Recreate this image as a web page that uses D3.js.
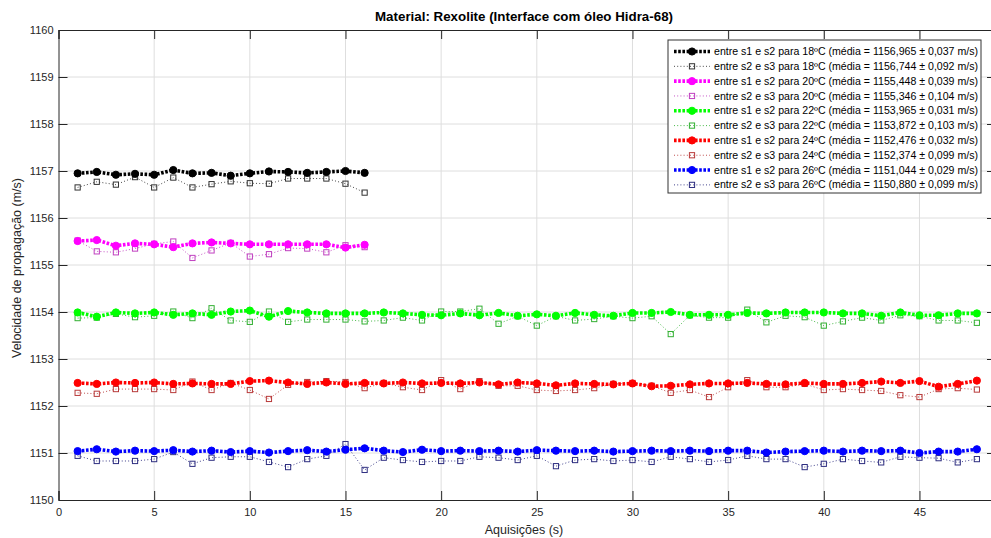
<!DOCTYPE html>
<html>
<head>
<meta charset="utf-8">
<script src="https://cdn.jsdelivr.net/npm/d3@7"></script>
<style>
  html, body { margin: 0; padding: 0; background: #ffffff; }
  svg { display: block; font-family: "Liberation Sans", Arial, Helvetica, sans-serif; }
</style>
</head>
<body>
<svg id="chart" width="991" height="538"></svg>
<script>
// Propagation speed per acquisition, for each temperature and sensor pair
const acq16 = d3.range(1, 17);
const acq48 = d3.range(1, 49);

const s12_18 = [1156.95, 1156.98, 1156.92, 1156.94, 1156.92, 1157.02, 1156.95, 1156.96, 1156.90, 1156.95, 1156.99, 1156.98, 1156.96, 1156.98, 1157.00, 1156.96];
const s23_18 = [1156.65, 1156.77, 1156.71, 1156.87, 1156.65, 1156.86, 1156.65, 1156.72, 1156.78, 1156.74, 1156.73, 1156.84, 1156.84, 1156.84, 1156.73, 1156.54];

const s12_20 = [1155.51, 1155.53, 1155.41, 1155.46, 1155.44, 1155.38, 1155.46, 1155.48, 1155.46, 1155.44, 1155.44, 1155.44, 1155.44, 1155.44, 1155.37, 1155.43];
const s23_20 = [1155.52, 1155.29, 1155.27, 1155.35, 1155.45, 1155.50, 1155.15, 1155.31, 1155.47, 1155.18, 1155.23, 1155.36, 1155.35, 1155.27, 1155.42, 1155.38];

const s12_22 = [1153.99, 1153.90, 1153.99, 1153.97, 1153.99, 1153.94, 1153.97, 1153.94, 1154.01, 1154.03, 1153.90, 1154.02, 1153.99, 1153.97, 1153.97, 1153.97,
                1153.99, 1153.97, 1153.94, 1153.93, 1153.97, 1153.93, 1153.98, 1153.92, 1153.95, 1153.92, 1153.98, 1153.94, 1153.92, 1153.98, 1153.98, 1154.00,
                1153.94, 1153.94, 1153.94, 1153.98, 1153.97, 1153.99, 1153.99, 1153.99, 1153.97, 1153.97, 1153.92, 1153.99, 1153.93, 1153.93, 1153.97, 1153.97];
const s23_22 = [1153.87, 1153.88, 1153.96, 1153.89, 1153.92, 1154.01, 1153.87, 1154.08, 1153.82, 1153.79, 1154.01, 1153.79, 1153.84, 1153.84, 1153.84, 1153.80,
                1153.82, 1153.88, 1153.82, 1154.01, 1154.01, 1154.07, 1153.75, 1153.91, 1153.71, 1153.91, 1153.82, 1153.85, 1153.91, 1153.87, 1153.91, 1153.53,
                1153.93, 1153.88, 1153.88, 1154.05, 1153.78, 1153.92, 1153.89, 1153.71, 1153.80, 1153.88, 1153.82, 1153.93, 1153.91, 1153.82, 1153.82, 1153.77];

const s12_24 = [1152.49, 1152.47, 1152.50, 1152.49, 1152.50, 1152.47, 1152.48, 1152.47, 1152.47, 1152.53, 1152.54, 1152.50, 1152.47, 1152.50, 1152.47, 1152.49,
                1152.48, 1152.50, 1152.48, 1152.49, 1152.48, 1152.50, 1152.46, 1152.50, 1152.48, 1152.44, 1152.48, 1152.47, 1152.46, 1152.48, 1152.42, 1152.43,
                1152.46, 1152.48, 1152.48, 1152.49, 1152.47, 1152.46, 1152.49, 1152.47, 1152.47, 1152.49, 1152.52, 1152.49, 1152.53, 1152.41, 1152.47, 1152.54];
const s23_24 = [1152.28, 1152.26, 1152.36, 1152.36, 1152.36, 1152.34, 1152.52, 1152.34, 1152.49, 1152.34, 1152.15, 1152.45, 1152.51, 1152.53, 1152.51, 1152.38,
                1152.49, 1152.40, 1152.34, 1152.55, 1152.36, 1152.53, 1152.43, 1152.43, 1152.34, 1152.32, 1152.34, 1152.38, 1152.47, 1152.49, 1152.43, 1152.28,
                1152.34, 1152.19, 1152.40, 1152.55, 1152.40, 1152.40, 1152.47, 1152.34, 1152.36, 1152.34, 1152.32, 1152.23, 1152.19, 1152.36, 1152.38, 1152.35];

const s12_26 = [1151.04, 1151.08, 1151.03, 1151.05, 1151.04, 1151.06, 1151.03, 1151.05, 1151.02, 1151.04, 1151.01, 1151.04, 1151.06, 1151.03, 1151.07, 1151.10,
                1151.05, 1151.02, 1151.07, 1151.04, 1151.05, 1151.04, 1151.05, 1151.03, 1151.06, 1151.05, 1151.04, 1151.05, 1151.03, 1151.04, 1151.05, 1151.04,
                1151.05, 1151.04, 1151.05, 1151.05, 1151.01, 1151.03, 1151.04, 1151.05, 1151.03, 1151.05, 1151.04, 1151.05, 1151.00, 1151.03, 1151.03, 1151.08];
const s23_26 = [1150.94, 1150.83, 1150.83, 1150.83, 1150.87, 1151.02, 1150.77, 1150.90, 1150.92, 1150.92, 1150.81, 1150.70, 1150.87, 1150.94, 1151.19, 1150.64,
                1150.90, 1150.85, 1150.81, 1150.83, 1150.83, 1150.92, 1150.90, 1150.85, 1150.94, 1150.72, 1150.85, 1150.87, 1150.83, 1150.85, 1150.81, 1150.92,
                1150.87, 1150.81, 1150.85, 1150.94, 1150.87, 1150.87, 1150.70, 1150.77, 1150.87, 1150.83, 1150.80, 1150.92, 1150.90, 1150.89, 1150.80, 1150.87];

const legendLabels = [
  "entre s1 e s2 para 18ºC (média = 1156,965 ± 0,037 m/s)",
  "entre s2 e s3 para 18ºC (média = 1156,744 ± 0,092 m/s)",
  "entre s1 e s2 para 20ºC (média = 1155,448 ± 0,039 m/s)",
  "entre s2 e s3 para 20ºC (média = 1155,346 ± 0,104 m/s)",
  "entre s1 e s2 para 22ºC (média = 1153,965 ± 0,031 m/s)",
  "entre s2 e s3 para 22ºC (média = 1153,872 ± 0,103 m/s)",
  "entre s1 e s2 para 24ºC (média = 1152,476 ± 0,032 m/s)",
  "entre s2 e s3 para 24ºC (média = 1152,374 ± 0,099 m/s)",
  "entre s1 e s2 para 26ºC (média = 1151,044 ± 0,029 m/s)",
  "entre s2 e s3 para 26ºC (média = 1150,880 ± 0,099 m/s)"
];

const xTickValues = [0, 5, 10, 15, 20, 25, 30, 35, 40, 45];
const yTickValues = [1150, 1151, 1152, 1153, 1154, 1155, 1156, 1157, 1158, 1159, 1160];

const titleText = "Material: Rexolite (Interface com óleo Hidra-68)";
const xLabelText = "Aquisições (s)";
const yLabelText = "Velocidade de propagação (m/s)";

// Series definitions: s1-s2 pairs are thick dotted lines with filled circles,
// s2-s3 pairs are thin dotted lines with open squares.
const series = [
  { x: acq16, y: s12_18, kind: "circle", color: "#000000" },
  { x: acq16, y: s23_18, kind: "square", color: "#333333" },
  { x: acq16, y: s12_20, kind: "circle", color: "#ff00ff" },
  { x: acq16, y: s23_20, kind: "square", color: "#c040c0" },
  { x: acq48, y: s12_22, kind: "circle", color: "#00ff00" },
  { x: acq48, y: s23_22, kind: "square", color: "#33b033" },
  { x: acq48, y: s12_24, kind: "circle", color: "#ff0000" },
  { x: acq48, y: s23_24, kind: "square", color: "#b83a3a" },
  { x: acq48, y: s12_26, kind: "circle", color: "#0000ff" },
  { x: acq48, y: s23_26, kind: "square", color: "#2e2e80" }
];

const svg = d3.select("#chart");
const plot = { left: 58.5, top: 30, right: 996, bottom: 500 };

const x = d3.scaleLinear().domain([0, 49]).range([plot.left, plot.right]);
const y = d3.scaleLinear().domain([1150, 1160]).range([plot.bottom, plot.top]);

const axisColor = "#262626";
const gridColor = "#dedede";

// Grid
const grid = svg.append("g");
grid.selectAll("line.gx").data(xTickValues.filter(d => d > 0)).enter().append("line")
  .attr("x1", d => x(d)).attr("x2", d => x(d))
  .attr("y1", plot.top).attr("y2", plot.bottom)
  .attr("stroke", gridColor).attr("stroke-width", 1);
grid.selectAll("line.gy").data(yTickValues.filter(d => d > 1150 && d < 1160)).enter().append("line")
  .attr("x1", plot.left).attr("x2", plot.right)
  .attr("y1", d => y(d)).attr("y2", d => y(d))
  .attr("stroke", gridColor).attr("stroke-width", 1);

// Axes with inward ticks on all four sides
const tickLen = 9;
const axisBottom = d3.axisBottom(x).tickValues(xTickValues).tickSize(-tickLen).tickPadding(8).tickFormat(d3.format("d"));
const axisLeft = d3.axisLeft(y).tickValues(yTickValues).tickSize(-tickLen).tickPadding(5).tickFormat(d3.format("d"));
const axisTop = d3.axisTop(x).tickValues(xTickValues).tickSize(-tickLen).tickFormat("");
const axisRight = d3.axisRight(y).tickValues(yTickValues).tickSize(-tickLen).tickFormat("");

function styleAxis(g) {
  g.selectAll("path").attr("stroke", axisColor).attr("stroke-width", 1);
  g.selectAll("line").attr("stroke", axisColor).attr("stroke-width", 1);
  g.selectAll("text").attr("fill", axisColor).style("font-size", "11px")
    .style("font-family", "'Liberation Sans', Arial, sans-serif");
}

svg.append("g").attr("transform", `translate(0,${plot.bottom})`).call(axisBottom).call(styleAxis);
svg.append("g").attr("transform", `translate(${plot.left},0)`).call(axisLeft).call(styleAxis);
svg.append("g").attr("transform", `translate(0,${plot.top})`).call(axisTop).call(styleAxis);
svg.append("g").attr("transform", `translate(${plot.right},0)`).call(axisRight).call(styleAxis);

// Data
const dataLayer = svg.append("g");
const lineGen = d3.line().x(d => x(d[0])).y(d => y(d[1]));

function drawCircleMarker(g, cx, cy, color) {
  g.append("circle").attr("cx", cx).attr("cy", cy).attr("r", 3.6)
    .attr("fill", color).attr("stroke", color).attr("stroke-width", 1);
}
function drawSquareMarker(g, cx, cy, color) {
  g.append("rect").attr("x", cx - 2.6).attr("y", cy - 2.6).attr("width", 5.2).attr("height", 5.2)
    .attr("fill", "none").attr("stroke", color).attr("stroke-width", 1);
}

// Draw thin series first so the thick circle series sit on top within each pair
const drawOrder = [1, 0, 3, 2, 5, 4, 7, 6, 9, 8];
drawOrder.forEach(i => {
  const s = series[i];
  const pts = s.x.map((v, k) => [v, s.y[k]]);
  const g = dataLayer.append("g");
  if (s.kind === "circle") {
    g.append("path").attr("d", lineGen(pts)).attr("fill", "none")
      .attr("stroke", s.color).attr("stroke-width", 3.6).attr("stroke-dasharray", "2.6,1.6");
    pts.forEach(p => drawCircleMarker(g, x(p[0]), y(p[1]), s.color));
  } else {
    g.append("path").attr("d", lineGen(pts)).attr("fill", "none")
      .attr("stroke", s.color).attr("stroke-width", 0.9).attr("stroke-dasharray", "1,2.2");
    pts.forEach(p => drawSquareMarker(g, x(p[0]), y(p[1]), s.color));
  }
});

// Title and axis labels
svg.append("text").attr("x", 524).attr("y", 21).attr("text-anchor", "middle")
  .attr("fill", "#000").style("font-size", "12px").style("font-weight", "bold")
  .attr("textLength", 298).attr("lengthAdjust", "spacingAndGlyphs")
  .text(titleText);

svg.append("text").attr("x", 524).attr("y", 534).attr("text-anchor", "middle")
  .attr("fill", axisColor).style("font-size", "12.5px").text(xLabelText);

svg.append("text").attr("transform", "translate(21,268) rotate(-90)").attr("text-anchor", "middle")
  .attr("fill", axisColor).style("font-size", "12.5px").text(yLabelText);

// Legend
const leg = { x: 668, y: 40, w: 313, h: 153 };
const legend = svg.append("g");
legend.append("rect").attr("x", leg.x).attr("y", leg.y).attr("width", leg.w).attr("height", leg.h)
  .attr("fill", "#ffffff").attr("stroke", "#333333").attr("stroke-width", 1);

const rowStep = 14.82;
legendLabels.forEach((label, i) => {
  const s = series[i];
  const cy = 51.5 + i * rowStep;
  const g = legend.append("g");
  if (s.kind === "circle") {
    g.append("line").attr("x1", 674).attr("x2", 710).attr("y1", cy).attr("y2", cy)
      .attr("stroke", s.color).attr("stroke-width", 3.6).attr("stroke-dasharray", "2.6,1.6");
    drawCircleMarker(g, 692, cy, s.color);
  } else {
    g.append("line").attr("x1", 674).attr("x2", 710).attr("y1", cy).attr("y2", cy)
      .attr("stroke", s.color).attr("stroke-width", 0.9).attr("stroke-dasharray", "1,2.2");
    drawSquareMarker(g, 692, cy, s.color);
  }
  g.append("text").attr("x", 714).attr("y", cy + 3.6).attr("fill", "#000")
    .style("font-size", "10px").attr("textLength", 264).attr("lengthAdjust", "spacingAndGlyphs")
    .text(label);
});
</script>
</body>
</html>
